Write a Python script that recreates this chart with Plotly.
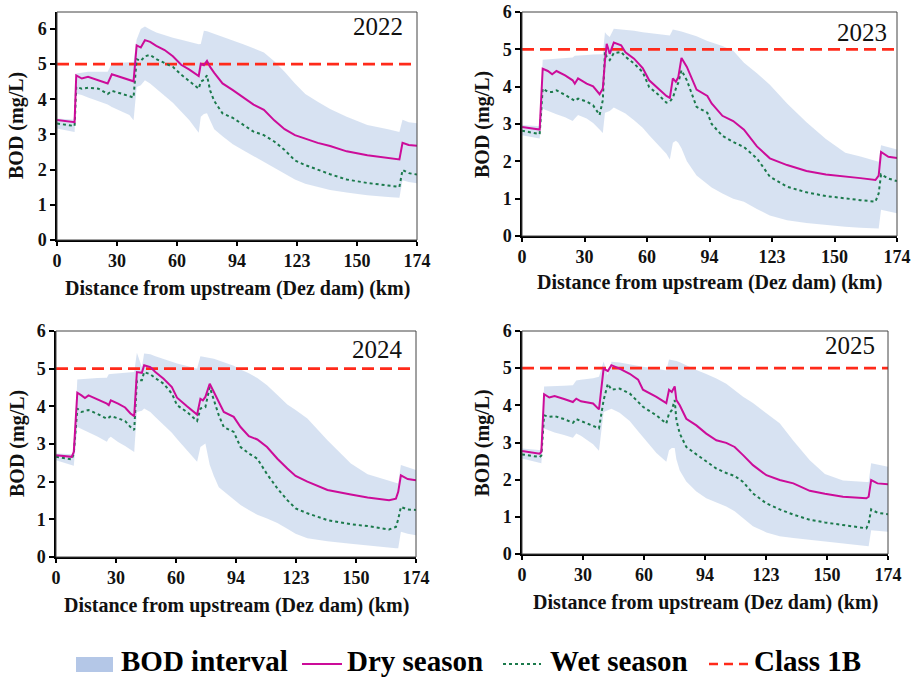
import plotly.graph_objects as go

# ---------------- data (x in km along the plotted axis) ----------------
tick_pos = [0, 29, 58, 87, 116, 145, 174]
tick_text = ["0", "30", "60", "94", "123", "150", "174"]
class_1b = 5.0
years = ["2022", "2023", "2024", "2025"]
legend_names = ["BOD interval", "Dry season", "Wet season", "Class 1B"]

x_2022 = [0, 8.5, 9.3, 12, 15, 20, 24.5, 26.5, 30, 35, 37, 38.5, 40.5, 42.5, 45, 48, 52, 56, 60, 64,
          68.5, 69.5, 71, 72.5, 74, 76, 80, 85, 90, 95, 100, 105, 110, 115, 120, 126, 132, 140, 150,
          160, 165.5, 167, 170, 174]
dry_2022 = [3.41, 3.35, 4.68, 4.59, 4.64, 4.55, 4.45, 4.71, 4.65, 4.56, 4.51, 5.53, 5.47, 5.68, 5.63,
            5.52, 5.40, 5.22, 4.98, 4.84, 4.66, 5.01, 4.97, 5.09, 4.92, 4.75, 4.45, 4.26, 4.05, 3.85,
            3.70, 3.40, 3.15, 2.98, 2.88, 2.76, 2.67, 2.52, 2.41, 2.32, 2.29, 2.76, 2.70, 2.68]
wet_2022 = [3.31, 3.24, 4.35, 4.30, 4.33, 4.30, 4.15, 4.24, 4.18, 4.10, 4.05, 5.14, 5.09, 5.22, 5.26,
            5.14, 5.02, 4.92, 4.70, 4.52, 4.30, 4.50, 4.55, 4.68, 4.25, 3.95, 3.60, 3.47, 3.28, 3.08,
            2.98, 2.80, 2.56, 2.26, 2.13, 2.00, 1.87, 1.72, 1.62, 1.55, 1.51, 1.99, 1.90, 1.86]
upper_2022 = [3.45, 3.42, 4.73, 4.75, 4.78, 4.78, 4.78, 5.02, 5.04, 5.05, 5.06, 5.70, 6.00, 6.07, 5.98,
              5.90, 5.82, 5.75, 5.69, 5.63, 5.56, 5.57, 5.95, 5.93, 5.90, 5.86, 5.78, 5.68, 5.56, 5.45,
              5.33, 5.08, 4.78, 4.45, 4.15, 3.93, 3.72, 3.50, 3.27, 3.15, 3.07, 3.42, 3.35, 3.32]
lower_2022 = [3.17, 3.07, 4.16, 4.12, 4.05, 3.95, 3.85, 3.78, 3.69, 3.55, 3.40, 4.35, 4.40, 4.54, 4.45,
              4.30, 4.10, 3.90, 3.65, 3.40, 3.05, 3.50, 3.58, 3.60, 3.40, 3.15, 2.95, 2.72, 2.55, 2.38,
              2.22, 2.05, 1.88, 1.72, 1.60, 1.50, 1.42, 1.35, 1.27, 1.22, 1.20, 1.70, 1.65, 1.61]

x_2023 = [0, 8.2, 9.6, 12, 14, 16, 20, 23.5, 24.5, 26, 30, 33, 36, 37.5, 38.5, 39.3, 40.7, 42.6, 46, 48,
          52, 56, 59, 63, 67, 68.6, 70, 71.4, 72.5, 74, 76.5, 81, 86, 88, 93, 98, 103, 109, 115, 123,
          132, 141, 150, 157, 164, 165.5, 166.6, 170, 174]
dry_2023 = [2.92, 2.85, 4.48, 4.42, 4.33, 4.42, 4.30, 4.17, 4.08, 4.22, 4.08, 4.01, 3.80, 3.95, 4.70,
            5.15, 4.88, 5.18, 5.11, 4.92, 4.75, 4.50, 4.17, 3.95, 3.75, 3.70, 4.22, 4.13, 4.25, 4.77,
            4.53, 3.92, 3.75, 3.55, 3.22, 3.08, 2.85, 2.40, 2.08, 1.90, 1.74, 1.65, 1.60, 1.55, 1.50,
            1.62, 2.25, 2.12, 2.09]
wet_2023 = [2.82, 2.73, 3.95, 3.86, 3.86, 3.90, 3.78, 3.64, 3.62, 3.68, 3.60, 3.50, 3.24, 3.64, 4.93,
            4.80, 4.71, 4.90, 4.93, 4.80, 4.62, 4.39, 3.99, 3.80, 3.57, 3.60, 3.70, 3.95, 4.10, 4.44,
            4.17, 3.46, 3.30, 3.00, 2.68, 2.52, 2.38, 2.08, 1.59, 1.32, 1.17, 1.07, 1.00, 0.96, 0.92,
            1.14, 1.65, 1.54, 1.47]
upper_2023 = [2.97, 2.94, 4.72, 4.73, 4.74, 4.75, 4.76, 4.78, 4.83, 4.84, 4.85, 4.86, 4.87, 4.87, 5.46,
              5.40, 5.33, 5.55, 5.53, 5.52, 5.50, 5.46, 5.44, 5.41, 5.38, 5.37, 5.53, 5.52, 5.50, 5.48,
              5.44, 5.35, 5.22, 5.18, 5.09, 4.96, 4.64, 4.36, 4.05, 3.55, 3.05, 2.60, 2.23, 2.13, 2.00,
              1.99, 2.43, 2.37, 2.32]
lower_2023 = [2.70, 2.61, 3.41, 3.35, 3.30, 3.26, 3.18, 3.08, 3.15, 3.24, 3.15, 3.03, 2.85, 2.76, 3.30,
              3.32, 3.35, 3.44, 3.35, 3.28, 3.10, 2.90, 2.70, 2.45, 2.20, 2.05, 2.50, 2.55, 2.50, 2.35,
              2.00, 1.62, 1.38, 1.30, 1.14, 1.00, 0.92, 0.72, 0.55, 0.42, 0.35, 0.29, 0.25, 0.22, 0.20,
              0.20, 0.70, 0.66, 0.61]

x_2024 = [0, 7.6, 8.6, 10.3, 12.3, 14, 15.7, 20, 24.6, 25.5, 26.5, 30, 33.4, 36, 37.8, 39.1, 41.5, 42.6,
          45.6, 48, 52, 56, 58.5, 63.3, 68.2, 69.8, 71, 72.2, 74.3, 76.3, 78.7, 81.1, 85.9, 89.2, 93.2,
          97.3, 102, 107, 111.8, 115.8, 121.5, 131.2, 142.5, 150.6, 161, 164.3, 165.4, 166.7, 170, 174]
dry_2024 = [2.70, 2.66, 2.79, 4.36, 4.29, 4.22, 4.29, 4.19, 4.07, 4.03, 4.16, 4.07, 3.97, 3.81, 3.74,
            4.91, 4.89, 5.09, 5.04, 4.91, 4.73, 4.51, 4.23, 4.00, 3.78, 4.20, 4.16, 4.25, 4.60, 4.38,
            4.12, 3.85, 3.72, 3.45, 3.21, 3.12, 2.92, 2.61, 2.35, 2.15, 2.00, 1.78, 1.66, 1.58, 1.51,
            1.55, 1.73, 2.17, 2.07, 2.04]
wet_2024 = [2.66, 2.59, 2.75, 3.94, 3.85, 3.87, 3.90, 3.80, 3.67, 3.70, 3.74, 3.68, 3.61, 3.45, 3.37,
            4.69, 4.69, 4.91, 4.85, 4.75, 4.60, 4.34, 4.03, 3.85, 3.61, 3.94, 3.96, 3.98, 4.51, 4.16,
            3.76, 3.45, 3.32, 2.92, 2.75, 2.61, 2.20, 1.82, 1.51, 1.29, 1.16, 0.98, 0.87, 0.82, 0.73,
            0.80, 1.00, 1.33, 1.26, 1.25]
upper_2024 = [2.75, 2.73, 2.73, 4.71, 4.72, 4.73, 4.74, 4.75, 4.76, 4.85, 4.86, 4.87, 4.88, 4.90, 4.91,
              5.42, 5.04, 5.40, 5.38, 5.33, 5.25, 5.18, 5.14, 5.07, 5.00, 5.33, 5.32, 5.30, 5.28, 5.26,
              5.22, 5.18, 5.08, 4.98, 4.88, 4.75, 4.56, 4.30, 4.05, 3.90, 3.68, 3.10, 2.48, 2.20, 2.02,
              1.96, 1.95, 2.44, 2.38, 2.31]
lower_2024 = [2.57, 2.42, 2.42, 3.45, 3.40, 3.35, 3.30, 3.20, 3.06, 3.15, 3.19, 3.05, 2.95, 2.85, 2.79,
              3.85, 3.88, 3.94, 3.85, 3.72, 3.50, 3.30, 3.13, 2.82, 2.53, 2.92, 2.96, 3.01, 2.45, 2.15,
              1.85, 1.74, 1.54, 1.38, 1.25, 1.12, 1.02, 0.90, 0.75, 0.62, 0.50, 0.42, 0.35, 0.30, 0.25,
              0.23, 0.23, 0.67, 0.62, 0.58]

x_2025 = [0, 8.4, 9.2, 10.5, 13, 15.5, 20, 24.2, 25.8, 28, 33.8, 36.6, 38.8, 40.8, 42.5, 46.4, 51.2,
          55.2, 57.5, 63.9, 68.6, 69.9, 71.2, 72.6, 73.4, 75, 78.1, 82.9, 87.6, 92.4, 97.1, 101.1, 105.1,
          109.8, 116.2, 122.5, 129, 136.8, 144, 152.6, 163.7, 164.8, 166, 169, 174]
dry_2025 = [2.77, 2.70, 2.75, 4.30, 4.21, 4.25, 4.17, 4.09, 4.18, 4.11, 4.05, 3.89, 4.99, 4.92, 5.08,
            4.99, 4.85, 4.69, 4.42, 4.23, 4.06, 4.42, 4.36, 4.51, 4.14, 4.00, 3.64, 3.46, 3.24, 3.06,
            2.99, 2.88, 2.66, 2.39, 2.12, 1.99, 1.90, 1.70, 1.62, 1.54, 1.50, 1.54, 1.99, 1.90, 1.88]
wet_2025 = [2.68, 2.61, 2.65, 3.73, 3.69, 3.71, 3.63, 3.53, 3.63, 3.58, 3.46, 3.38, 4.14, 4.58, 4.42,
            4.45, 4.32, 4.10, 3.96, 3.73, 3.51, 3.78, 3.87, 4.14, 3.60, 3.24, 2.88, 2.68, 2.50, 2.30,
            2.18, 2.10, 1.94, 1.63, 1.36, 1.20, 1.06, 0.92, 0.85, 0.78, 0.69, 0.82, 1.20, 1.11, 1.07]
upper_2025 = [2.84, 2.79, 2.79, 4.51, 4.52, 4.52, 4.53, 4.54, 4.67, 4.69, 4.73, 4.77, 5.18, 4.81, 5.17,
              5.15, 5.10, 5.06, 5.04, 4.99, 4.94, 5.23, 5.22, 5.20, 5.19, 5.16, 5.07, 4.95, 4.84, 4.72,
              4.58, 4.40, 4.23, 4.06, 3.80, 3.52, 3.05, 2.52, 2.15, 1.98, 1.94, 1.94, 2.44, 2.40, 2.35]
lower_2025 = [2.57, 2.44, 2.44, 3.38, 3.32, 3.27, 3.20, 3.13, 3.24, 3.18, 2.95, 2.78, 3.82, 3.88, 3.91,
              3.80, 3.58, 3.30, 3.15, 2.72, 2.48, 2.79, 2.85, 2.85, 2.55, 2.25, 1.95, 1.68, 1.50, 1.38,
              1.28, 1.15, 0.96, 0.75, 0.58, 0.48, 0.43, 0.38, 0.34, 0.29, 0.22, 0.21, 0.64, 0.62, 0.60]

panels = [
    (x_2022, dry_2022, wet_2022, upper_2022, lower_2022),
    (x_2023, dry_2023, wet_2023, upper_2023, lower_2023),
    (x_2024, dry_2024, wet_2024, upper_2024, lower_2024),
    (x_2025, dry_2025, wet_2025, upper_2025, lower_2025),
]

# ---------------- styling / layout ----------------
W, H = 916, 678
SERIF = "Liberation Serif"
DRY_C = "#CC0C99"
WET_C = "#1B7A4C"
RED_C = "#FF2A1A"
BAND_C = "rgba(176,198,230,0.50)"
LEG_BAND_C = "#B4C7E7"

# plot boxes in window pixels: (left, right, top, bottom, ymax)
boxes = [
    (57, 417, 12, 240, 6.48),
    (522, 897, 12, 236, 6.0),
    (56, 416, 331, 557, 6.0),
    (522, 888, 331, 554, 6.0),
]
year_pos = [(378, 27), (862, 32), (377, 349), (850, 345)]
xtitle_y = [288, 283, 605, 602]
ytitle_x = [17, 482, 17, 482]


def px(xp):
    return xp / W


def py(yp):
    return (H - yp) / H


fig = go.Figure()
layout = {}
annotations = []
shapes = []

for i, ((xs, dry, wet, up, lo), (l, r, t, b, ymax)) in enumerate(zip(panels, boxes)):
    n = "" if i == 0 else str(i + 1)
    xa, ya = "x" + n, "y" + n
    fig.add_trace(go.Scatter(x=xs, y=lo, mode="lines", line=dict(width=0, color=BAND_C),
                             showlegend=False, hoverinfo="skip", xaxis=xa, yaxis=ya))
    fig.add_trace(go.Scatter(x=xs, y=up, mode="lines", line=dict(width=0, color=BAND_C),
                             fill="tonexty", fillcolor=BAND_C, showlegend=False,
                             hoverinfo="skip", xaxis=xa, yaxis=ya, name=legend_names[0]))
    fig.add_trace(go.Scatter(x=[0, 174], y=[class_1b, class_1b], mode="lines",
                             line=dict(color=RED_C, width=2.8, dash="12px,6px"),
                             showlegend=False, xaxis=xa, yaxis=ya, name=legend_names[3]))
    fig.add_trace(go.Scatter(x=xs, y=wet, mode="lines", line=dict(color=WET_C, width=2, dash="dot"),
                             showlegend=False, xaxis=xa, yaxis=ya, name=legend_names[2]))
    fig.add_trace(go.Scatter(x=xs, y=dry, mode="lines", line=dict(color=DRY_C, width=2),
                             showlegend=False, xaxis=xa, yaxis=ya, name=legend_names[1]))

    layout["xaxis" + n] = dict(
        domain=[px(l), px(r)], anchor=ya, range=[0, 174], tickmode="array",
        tickvals=tick_pos, ticktext=tick_text, showgrid=False, zeroline=False,
        showline=True, linecolor="black", linewidth=1.5, ticks="outside", ticklen=4,
        tickcolor="black", tickwidth=1.5, automargin=False, ticklabeloverflow="allow",
        tickfont=dict(family=SERIF, size=18, color="#111", weight="bold"))
    layout["yaxis" + n] = dict(
        domain=[py(b), py(t)], anchor=xa, range=[0, ymax], tickmode="array",
        tickvals=[0, 1, 2, 3, 4, 5, 6], showgrid=False, zeroline=False,
        showline=True, linecolor="black", linewidth=1.5, ticks="outside", ticklen=5,
        tickcolor="black", tickwidth=1.5, automargin=False, ticklabeloverflow="allow",
        tickfont=dict(family=SERIF, size=18, color="#111", weight="bold"))
    shapes.append(dict(type="rect", xref=xa + " domain", yref=ya + " domain",
                       x0=0, x1=1, y0=0, y1=1, line=dict(color="#444", width=1)))
    annotations.append(dict(text=years[i], x=px(year_pos[i][0]), y=py(year_pos[i][1]),
                            xref="paper", yref="paper", showarrow=False,
                            xanchor="center", yanchor="middle",
                            font=dict(family=SERIF, size=25, color="#111")))
    annotations.append(dict(text="<b>Distance from upstream (Dez dam) (km)</b>",
                            x=px((l + r) / 2), y=py(xtitle_y[i]),
                            xref="paper", yref="paper", showarrow=False,
                            xanchor="center", yanchor="middle",
                            font=dict(family=SERIF, size=20, color="#111")))
    annotations.append(dict(text="<b>BOD (mg/L)</b>", x=px(ytitle_x[i]), y=py((t + b) / 2),
                            xref="paper", yref="paper", showarrow=False, textangle=-90,
                            xanchor="center", yanchor="middle",
                            font=dict(family=SERIF, size=20, color="#111")))

# ---------------- legend (drawn as shapes + text) ----------------
LEG_Y = 664
TXT_Y = 661
shapes.append(dict(type="rect", xref="paper", yref="paper", x0=px(76), x1=px(113),
                   y0=py(672), y1=py(657), fillcolor=LEG_BAND_C, line=dict(width=0)))
shapes.append(dict(type="line", xref="paper", yref="paper", x0=px(302), x1=px(342),
                   y0=py(LEG_Y), y1=py(LEG_Y), line=dict(color=DRY_C, width=2)))
shapes.append(dict(type="line", xref="paper", yref="paper", x0=px(503), x1=px(541),
                   y0=py(LEG_Y), y1=py(LEG_Y), line=dict(color=WET_C, width=2, dash="dot")))
shapes.append(dict(type="line", xref="paper", yref="paper", x0=px(709), x1=px(749),
                   y0=py(LEG_Y), y1=py(LEG_Y), line=dict(color=RED_C, width=2.5, dash="9px,6px")))
for name, xl in zip(legend_names, [119, 345, 548, 752]):
    annotations.append(dict(text="<b>" + name + "</b>", x=px(xl), y=py(TXT_Y),
                            xref="paper", yref="paper", showarrow=False,
                            xanchor="left", yanchor="middle",
                            font=dict(family=SERIF, size=29, color="black")))

fig.update_layout(
    width=W, height=H, margin=dict(l=0, r=0, t=0, b=0, autoexpand=False),
    paper_bgcolor="white", plot_bgcolor="white",
    showlegend=False,
    annotations=annotations, shapes=shapes,
    **layout,
)

# remove the browser's default 8px page margin so the figure fills the window
fig.write_html("out.html",
               config={"displayModeBar": False},
               post_script="document.body.style.margin='0';"
                           "document.body.style.overflow='hidden';")
